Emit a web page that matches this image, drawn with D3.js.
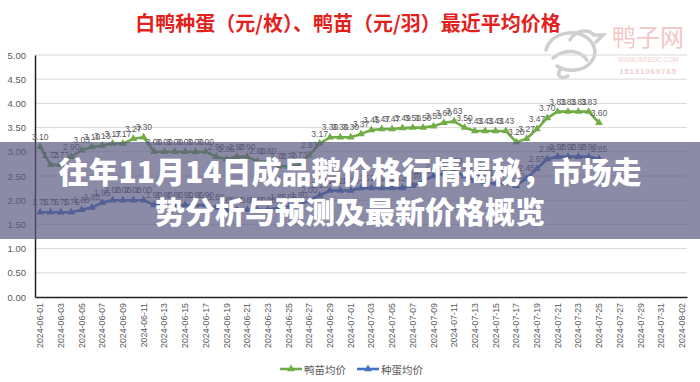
<!DOCTYPE html>
<html>
<head>
<meta charset="utf-8">
<script src="https://cdn.jsdelivr.net/npm/d3@7"></script>
<style>
  html, body { margin: 0; padding: 0; background: #fff; }
  svg { display: block; }
</style>
</head>
<body>
<svg id="chart" width="700" height="382"></svg>
<script>
// ---------- data ----------
const dates = [
  "2024-06-01","2024-06-02","2024-06-03","2024-06-04","2024-06-05","2024-06-06","2024-06-07","2024-06-08",
  "2024-06-09","2024-06-10","2024-06-11","2024-06-12","2024-06-13","2024-06-14","2024-06-15","2024-06-16",
  "2024-06-17","2024-06-18","2024-06-19","2024-06-20","2024-06-21","2024-06-22","2024-06-23","2024-06-24",
  "2024-06-25","2024-06-26","2024-06-27","2024-06-28","2024-06-29","2024-06-30","2024-07-01","2024-07-02",
  "2024-07-03","2024-07-04","2024-07-05","2024-07-06","2024-07-07","2024-07-08","2024-07-09","2024-07-10",
  "2024-07-11","2024-07-12","2024-07-13","2024-07-14","2024-07-15","2024-07-16","2024-07-17","2024-07-18",
  "2024-07-19","2024-07-20","2024-07-21","2024-07-22","2024-07-23","2024-07-24","2024-07-25","2024-07-26",
  "2024-07-27","2024-07-28","2024-07-29","2024-07-30","2024-07-31","2024-08-01","2024-08-02"
];
// 鸭苗均价 (元/羽)
const duckling = [
  3.10,2.73,2.73,2.90,3.03,3.10,3.13,3.17,3.17,3.27,3.30,
  3.00,3.00,3.00,3.00,3.00,3.00,2.90,2.85,2.90,2.90,2.80,2.80,2.70,2.70,2.73,
  2.93,3.17,3.30,3.30,3.30,3.37,3.45,3.47,3.47,3.49,3.50,3.50,3.53,3.60,3.63,
  3.50,3.43,3.43,3.43,3.43,3.20,3.27,3.47,3.70,3.83,3.83,3.83,3.83,3.60
];
// 种蛋均价 (元/枚)
const eggs = [
  1.75,1.75,1.75,1.75,1.80,1.85,1.95,2.00,2.00,2.00,2.00,
  1.90,1.90,1.90,1.90,1.90,1.90,1.85,1.80,1.80,1.80,1.80,1.80,1.85,1.85,1.90,
  2.00,2.10,2.20,2.20,2.20,2.25,2.25,2.25,2.25,2.25,2.30,2.40,2.50,2.55,2.60,
  2.50,2.40,2.35,2.35,2.35,2.30,2.45,2.65,2.85,2.90,2.90,2.90,2.90,2.85
];
const yTicks = [0,0.5,1,1.5,2,2.5,3,3.5,4,4.5,5];
const seriesNames = ["鸭苗均价","种蛋均价"];
const seriesColors = ["#70AD47","#4472C4"];
const chartTitle = "白鸭种蛋（元/枚）、鸭苗（元/羽）最近平均价格";
const overlayLines = ["往年11月14日成品鹅价格行情揭秘，市场走","势分析与预测及最新价格概览"];

// ---------- layout ----------
const svg = d3.select("#chart");
const L = 35, R = 687, T = 55, B = 297;
const numFont = "'Liberation Sans', Arial, sans-serif";
const cjkFont = "'Noto Sans CJK SC', 'Noto Sans', sans-serif";

const x = d3.scaleBand().domain(dates).range([L, R]).paddingInner(0).paddingOuter(0);
const cx = d => x(d) + x.bandwidth() / 2;
const y = d3.scaleLinear().domain([0, 5]).range([B, T]);

// title
svg.append("text")
  .attr("x", 348).attr("y", 22)
  .attr("text-anchor", "middle").attr("dominant-baseline", "central")
  .attr("font-family", cjkFont).attr("font-weight", "bold")
  .attr("font-size", 20).attr("fill", "#e3211c")
  .text(chartTitle);

// watermark
const wm = svg.append("g").attr("opacity", 0.5);
wm.append("path")
  .attr("d", "M546,50 C550,34 572,28 586,37 C595,43 598,54 591,62 C584,71 568,73 557,66 M553,58 C565,48 580,50 587,60 M570,40 C576,29 589,29 594,35 L603,35 L596,42 M560,70 C556,76 562,80 568,76")
  .attr("fill", "none").attr("stroke", "#a0a0a0").attr("stroke-width", 3.5).attr("stroke-linecap", "round");
wm.append("text").attr("x", 648).attr("y", 46).attr("text-anchor", "middle")
  .attr("font-family", cjkFont).attr("font-size", 24).attr("fill", "#e88f8f").text("鸭子网");
wm.append("text").attr("x", 648).attr("y", 62).attr("text-anchor", "middle")
  .attr("font-family", numFont).attr("font-size", 6.5).attr("fill", "#e0a0a0").text("WWW.INTEDC.COM");
wm.append("text").attr("x", 648).attr("y", 74).attr("text-anchor", "middle")
  .attr("font-family", numFont).attr("font-weight", "bold").attr("font-size", 8).attr("fill", "#e39a9a")
  .attr("letter-spacing", 0.8).text("15131069765");

// gridlines
svg.append("g").selectAll("line").data(yTicks.filter(v => v > 0)).join("line")
  .attr("x1", L).attr("x2", R)
  .attr("y1", d => y(d)).attr("y2", d => y(d))
  .attr("stroke", "#d9d9d9").attr("stroke-width", 1);

// y axis
const yAxis = svg.append("g").attr("transform", `translate(${L},0)`)
  .call(d3.axisLeft(y).tickValues(yTicks).tickFormat(d3.format(".2f")).tickSize(0).tickPadding(9));
yAxis.select(".domain").attr("stroke", "#222").attr("stroke-width", 1.5);
yAxis.selectAll("text").attr("font-family", numFont).attr("font-size", 9.5).attr("fill", "#595959");

// x axis
const xAxis = svg.append("g").attr("transform", `translate(0,${B})`)
  .call(d3.axisBottom(x).tickValues(dates.filter((d, i) => i % 2 === 0)).tickSize(0).tickPadding(0));
xAxis.select(".domain").attr("stroke", "#222").attr("stroke-width", 1.5);
xAxis.selectAll("text")
  .attr("font-family", numFont).attr("font-size", 8.8).attr("fill", "#595959")
  .attr("text-anchor", "end").attr("dy", "0.35em")
  .attr("transform", "translate(0,6) rotate(-90)")
  .attr("x", 0).attr("y", 0);

// series
const series = [duckling, eggs];
const tri = d3.symbol().type(d3.symbolTriangle).size(26);
series.forEach((vals, si) => {
  const pts = vals.map((v, i) => ({ d: dates[i], v }));
  const g = svg.append("g");
  g.append("path").datum(pts)
    .attr("fill", "none").attr("stroke", seriesColors[si]).attr("stroke-width", 2.6)
    .attr("stroke-linejoin", "round")
    .attr("d", d3.line().x(p => cx(p.d)).y(p => y(p.v)));
  g.selectAll("path.m").data(pts).join("path").attr("class", "m")
    .attr("d", tri).attr("fill", seriesColors[si])
    .attr("transform", p => `translate(${cx(p.d)},${y(p.v)})`);
  g.selectAll("text").data(pts).join("text")
    .attr("x", p => cx(p.d)).attr("y", p => y(p.v) - 7)
    .attr("text-anchor", "middle")
    .attr("font-family", numFont).attr("font-size", 8.5).attr("fill", "#595959")
    .text(p => p.v.toFixed(2));
});

// legend
const legend = svg.append("g");
const legendItems = [{ x: 280, tx: 304 }, { x: 357, tx: 381 }];
legendItems.forEach((it, i) => {
  legend.append("line").attr("x1", it.x).attr("x2", it.x + 22).attr("y1", 369).attr("y2", 369)
    .attr("stroke", seriesColors[i]).attr("stroke-width", 2.6);
  legend.append("path").attr("d", tri).attr("fill", seriesColors[i])
    .attr("transform", `translate(${it.x + 11},369)`);
  legend.append("text").attr("x", it.tx).attr("y", 369).attr("dominant-baseline", "central")
    .attr("font-family", cjkFont).attr("font-size", 10.5).attr("fill", "#595959")
    .text(seriesNames[i]);
});

// overlay band
svg.append("rect").attr("x", 0).attr("y", 142).attr("width", 700).attr("height", 97)
  .attr("fill", "rgb(90,88,130)").attr("fill-opacity", 0.7);
svg.selectAll("text.ov").data(overlayLines).join("text").attr("class", "ov")
  .attr("x", 350).attr("y", (d, i) => 170 + i * 40)
  .attr("text-anchor", "middle").attr("dominant-baseline", "central")
  .attr("font-family", cjkFont).attr("font-weight", 900)
  .attr("font-size", 30).attr("fill", "#ffffff")
  .text(d => d);
</script>
</body>
</html>
